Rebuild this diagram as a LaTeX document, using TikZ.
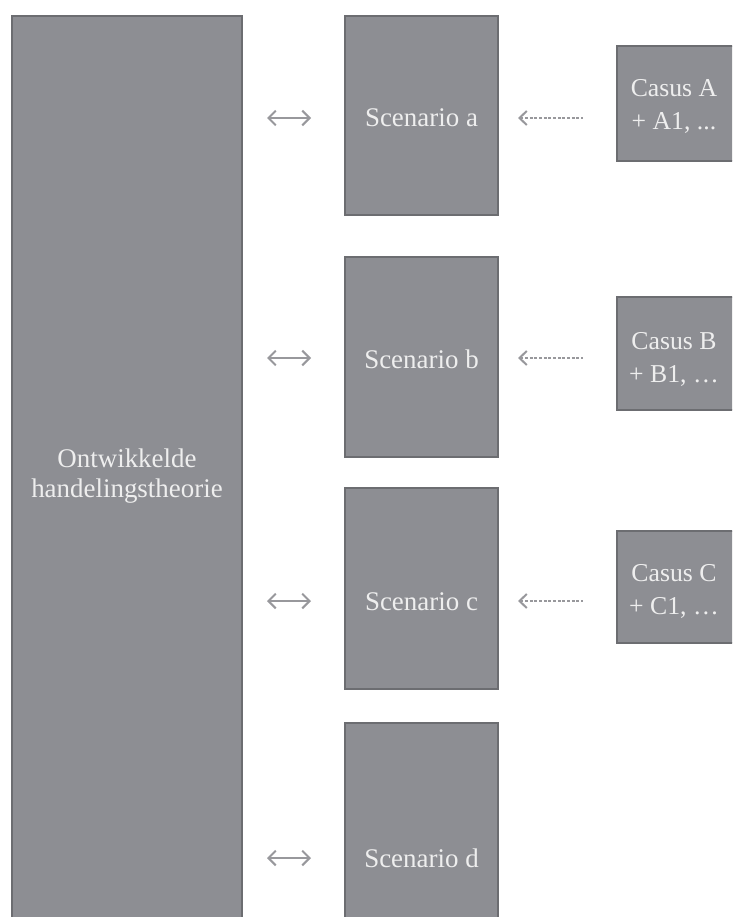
\documentclass[tikz,border=0pt]{standalone}
\usepackage{fontspec}
\setmainfont{Liberation Serif}
\usetikzlibrary{arrows.meta}

\definecolor{boxfill}{RGB}{141,142,147}
\definecolor{boxedge}{RGB}{108,109,113}
\definecolor{boxtext}{RGB}{238,238,238}
\definecolor{arrowgray}{RGB}{152,152,156}

\tikzset{
  panel/.style 2 args={draw=boxedge, line width=1.1pt, fill=boxfill,
    inner sep=0pt, outer sep=0pt, rectangle,
    minimum width=#1*0.75pt, minimum height=#2*0.75pt},
  bigtext/.style={text=boxtext, inner sep=0pt, align=center,
    font=\fontsize{20.2}{22.5}\selectfont},
  scentext/.style={text=boxtext, inner sep=0pt, anchor=base,
    font=\fontsize{20.2}{22.5}\selectfont},
  casetext/.style={text=boxtext, inner sep=0pt, align=center,
    font=\fontsize{19.3}{24.75}\selectfont},
  twoway/.style={arrowgray, line width=1.5pt,
    {Straight Barb[length=5.5pt,width=11pt]}-{Straight Barb[length=5.5pt,width=11pt]}},
  feed/.style={arrowgray, line width=0.8pt, dash pattern=on 2.2pt off 1.3pt,
    {Straight Barb[length=5.5pt,width=10.5pt,line width=1.5pt]}-},
}

\begin{document}
\begin{tikzpicture}[x=0.75pt,y=-0.75pt]
  \clip (0,0) rectangle (732,917);
  \fill[white] (0,0) rectangle (732,917);

  % theory column
  \node[panel={230}{924}] (theory) at (127,478) {};
  \node[bigtext] (theorylabel) at (127,476) {Ontwikkelde\\handelingstheorie};

  % scenarios
  \node[panel={153}{199}] (sa) at (421.5,115.5) {};
  \node[panel={153}{200}] (sb) at (421.5,357) {};
  \node[panel={153}{201}] (sc) at (421.5,588.5) {};
  \node[panel={153}{217}] (sd) at (421.5,831.5) {};

  \node[scentext] (salabel) at (421.5,127) {Scenario a};
  \node[scentext] (sblabel) at (421.5,368) {Scenario b};
  \node[scentext] (sclabel) at (421.5,610) {Scenario c};
  \node[scentext] (sdlabel) at (421.5,867) {Scenario d};

  % cases
  \node[panel={118}{115}] (ca) at (676,103.5) {};
  \node[panel={118}{113}] (cb) at (676,353.5) {};
  \node[panel={118}{112}] (cc) at (676,587) {};

  \node[casetext] (calabel) at (674,106) {Casus A\\+ A1, ...};
  \node[casetext] (cblabel) at (674,359) {Casus B\\+ B1, \dots};
  \node[casetext] (cclabel) at (674,591) {Casus C\\+ C1, \dots};

  % arrow end points
  \foreach \n/\y in {a/118,b/358,c/601,d/858}{
    \coordinate (tl\n) at (267,\y);
    \coordinate (tr\n) at (311,\y);
  }
  \foreach \n/\y in {a/118,b/358,c/601}{
    \coordinate (fl\n) at (518,\y);
    \coordinate (fr\n) at (583,\y);
  }

  \draw[twoway] (tla) -- (tra);
  \draw[twoway] (tlb) -- (trb);
  \draw[twoway] (tlc) -- (trc);
  \draw[twoway] (tld) -- (trd);

  \draw[feed] (fla) -- (fra);
  \draw[feed] (flb) -- (frb);
  \draw[feed] (flc) -- (frc);
\end{tikzpicture}
\end{document}
